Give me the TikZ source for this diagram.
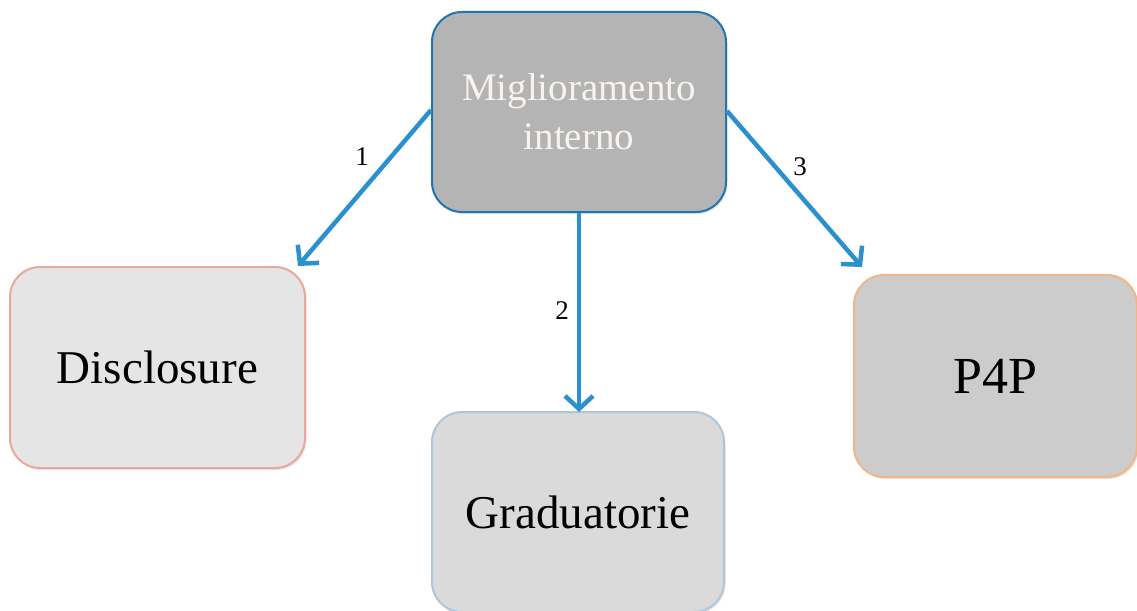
\documentclass[tikz,border=0pt]{standalone}
\usepackage{fontspec}
\setmainfont{Liberation Serif}
\usetikzlibrary{arrows.meta,shadows}
\definecolor{arrowblue}{RGB}{43,145,206}
\definecolor{topborder}{RGB}{31,118,176}
\definecolor{topfill}{RGB}{180,180,180}
\definecolor{discfill}{RGB}{229,229,229}
\definecolor{discborder}{RGB}{232,168,155}
\definecolor{gradfill}{RGB}{218,218,218}
\definecolor{gradborder}{RGB}{175,198,216}
\definecolor{pfill}{RGB}{204,204,204}
\definecolor{pborder}{RGB}{244,181,131}
\definecolor{toptext}{RGB}{248,243,236}
\tikzset{
  boxnode/.style={rectangle, rounded corners=30pt, line width=2pt, align=center, inner sep=0pt,
    drop shadow={shadow xshift=1.5pt, shadow yshift=-2pt, opacity=0.2}},
  conn/.style={draw=arrowblue, line width=4.5pt, -{Straight Barb[length=13pt,width=28pt]}},
  numlabel/.style={font=\fontsize{27}{30}\selectfont, text=black}
}
\begin{document}
\begin{tikzpicture}[x=1pt,y=-1pt]
\useasboundingbox (0,0) rectangle (1137,610);
\node[boxnode, draw=topborder, fill=topfill, minimum width=294pt, minimum height=200pt,
  text=toptext, font=\fontsize{39}{49}\selectfont] (top) at (579,112) {Miglioramento\\interno};
\node[boxnode, draw=discborder, fill=discfill, minimum width=295pt, minimum height=201pt,
  font=\fontsize{47}{50}\selectfont] (disc) at (157.5,367.5) {Disclosure};
\node[boxnode, draw=gradborder, fill=gradfill, minimum width=292pt, minimum height=200pt,
  font=\fontsize{47}{50}\selectfont] (grad) at (578,512) {Graduatorie};
\node[boxnode, draw=pborder, fill=pfill, minimum width=283pt, minimum height=202pt,
  font=\fontsize{52}{56}\selectfont] (p4p) at (995.5,376) {P4P};
\draw[conn] ([yshift=2pt]top.west) -- ([xshift=-8pt,yshift=0pt]disc.north east);
\draw[conn] (top.south) -- ([yshift=-1pt]top.south |- grad.north);
\draw[conn] ([yshift=1pt]top.east) -- ([xshift=9pt,yshift=7pt]p4p.north west);
\node[numlabel] (n1) at (362,157) {1};
\node[numlabel] (n2) at (562,311) {2};
\node[numlabel] (n3) at (800,167) {3};
\end{tikzpicture}
\end{document}
